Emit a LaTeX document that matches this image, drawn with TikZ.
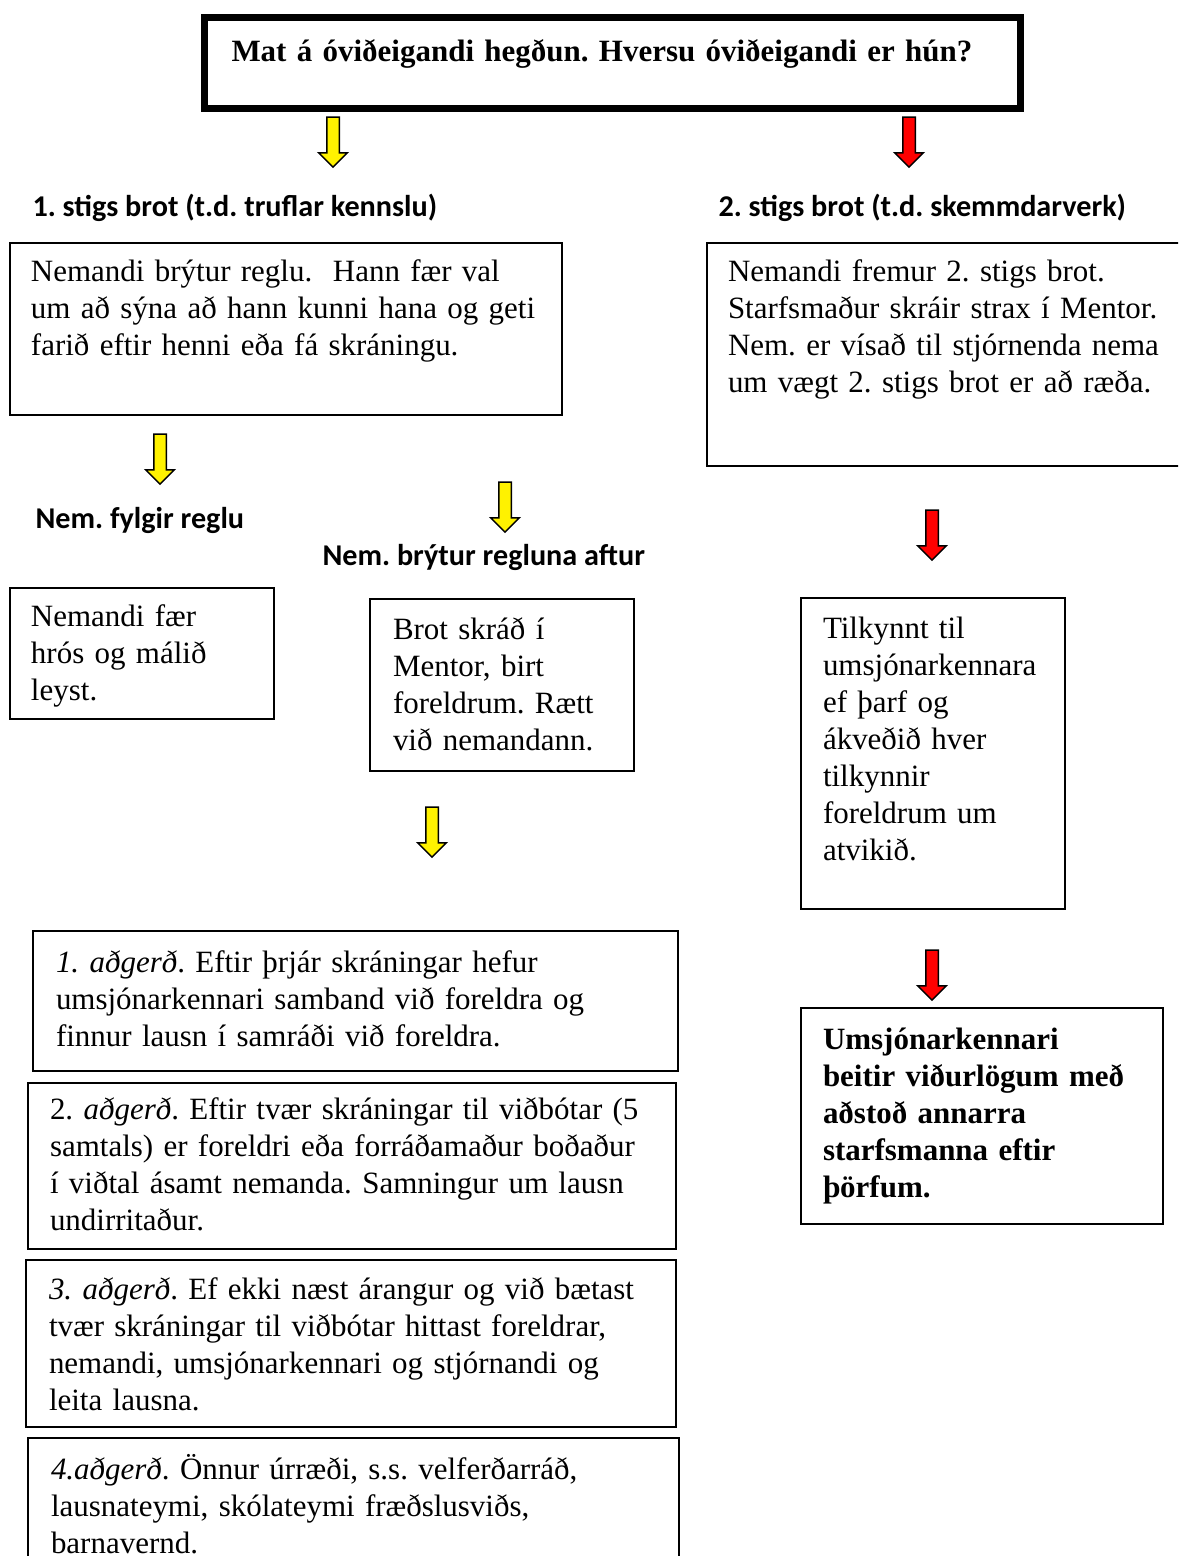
\documentclass[tikz,border=0pt]{standalone}
\usepackage{fontspec}
\setmainfont{Liberation Serif}
\newfontfamily\headfont{Carlito}
\usetikzlibrary{shapes.arrows}
\newdimen\px
\px=0.3745pt
\frenchspacing

\begin{document}
\begin{tikzpicture}[
  x=0.3745pt, y=-0.3745pt,
  box/.style={rectangle,draw=black,line width=2\px,anchor=north west,align=left,inner ysep=0pt,font=\fontsize{11.6}{13.86}\selectfont},
  titlebox/.style={box,line width=7\px,font=\bfseries\fontsize{11.6}{13.86}\selectfont},
  head/.style={anchor=base west,inner sep=0pt,font=\headfont\bfseries\fontsize{11.3}{13}\selectfont},
  yarr/.style={single arrow,draw=black,line width=1.5\px,fill=yellow,rotate=-90,inner xsep=0pt,inner ysep=5.5\px,single arrow head extend=8\px,minimum height=50\px},
  rarr/.style={yarr,fill=red}
]
\clip (0,0) rectangle (1178,1556);
\fill[white] (0,0) rectangle (1178,1556);

\node[titlebox,text width=761\px,inner xsep=27.5\px,text height=44.5\px,text depth=46.5\px] (mat) at (200.5,13.5) {Mat á óviðeigandi hegðun. Hversu óviðeigandi er hún?};

% arrows under the title
\node[yarr] (a1) at (333,139) {};
\node[rarr] (a2) at (909,139) {};

\node[head] (stig1) at (32,216) {1. stigs brot (t.d. truflar kennslu)};
\node[head] (stig2) at (718,216) {2. stigs brot (t.d. skemmdarverk)};

\node[box,text width=510\px,inner xsep=21\px,text height=38\px,text depth=134\px] (brot1) at (9,242) {Nemandi brýtur reglu.\ \ Hann fær val\\um að sýna að hann kunni hana og geti\\farið eftir henni eða fá skráningu.};
\node[box,text width=458\px,inner xsep=21\px,text height=38\px,text depth=185\px] (brot2) at (706,242) {Nemandi fremur 2. stigs brot.\\Starfsmaður skráir strax í Mentor.\\Nem. er vísað til stjórnenda nema\\um vægt 2. stigs brot er að ræða.};

\node[yarr] (a3) at (160,456) {};
\node[yarr] (a4) at (505,504) {};
\node[rarr] (a5) at (932,532) {};

\node[head] (fylgir) at (35,528) {Nem. fylgir reglu};
\node[head] (aftur) at (322,565) {Nem. brýtur regluna aftur};

\node[box,text width=222\px,inner xsep=21\px,text height=38\px,text depth=93\px] (hros) at (9,587) {Nemandi fær\\hrós og málið\\leyst.};
\node[box,text width=218\px,inner xsep=23\px,text height=40\px,text depth=132\px] (skrad) at (369,598) {Brot skráð í\\Mentor, birt\\foreldrum. Rætt\\við nemandann.};
\node[box,text width=220\px,inner xsep=22\px,text height=40\px,text depth=271\px] (tilk) at (800,597) {Tilkynnt til\\umsjónarkennara\\ef þarf og\\ákveðið hver\\tilkynnir\\foreldrum um\\atvikið.};

\node[yarr] (a6) at (432,829) {};
\node[rarr] (a7) at (932,972) {};

\node[box,font=\bfseries\fontsize{11.6}{13.86}\selectfont,text width=318\px,inner xsep=22\px,text height=41\px,text depth=175\px] (vidurlog) at (800,1007) {Umsjónarkennari\\beitir viðurlögum með\\aðstoð annarra\\starfsmanna eftir\\þörfum.};

\node[box,text width=599\px,inner xsep=23\px,text height=41\px,text depth=99\px] (adg1) at (32,930) {\textit{1. aðgerð}. Eftir þrjár skráningar hefur\\umsjónarkennari samband við foreldra og\\finnur lausn í samráði við foreldra.};
\node[box,text width=604\px,inner xsep=22\px,text height=36\px,text depth=130\px] (adg2) at (27,1082) {2. \textit{aðgerð}. Eftir tvær skráningar til viðbótar (5\\samtals) er foreldri eða forráðamaður boðaður\\í viðtal ásamt nemanda. Samningur um lausn\\undirritaður.};
\node[box,text width=604\px,inner xsep=23\px,text height=39\px,text depth=128\px] (adg3) at (25,1259) {\textit{3. aðgerð}. Ef ekki næst árangur og við bætast\\tvær skráningar til viðbótar hittast foreldrar,\\nemandi, umsjónarkennari og stjórnandi og\\leita lausna.};
\node[box,text width=605\px,inner xsep=23\px,text height=41\px,text depth=150\px] (adg4) at (27,1437) {\textit{4.aðgerð}. Önnur úrræði, s.s. velferðarráð,\\lausnateymi, skólateymi fræðslusviðs,\\barnavernd.};
\end{tikzpicture}
\end{document}
